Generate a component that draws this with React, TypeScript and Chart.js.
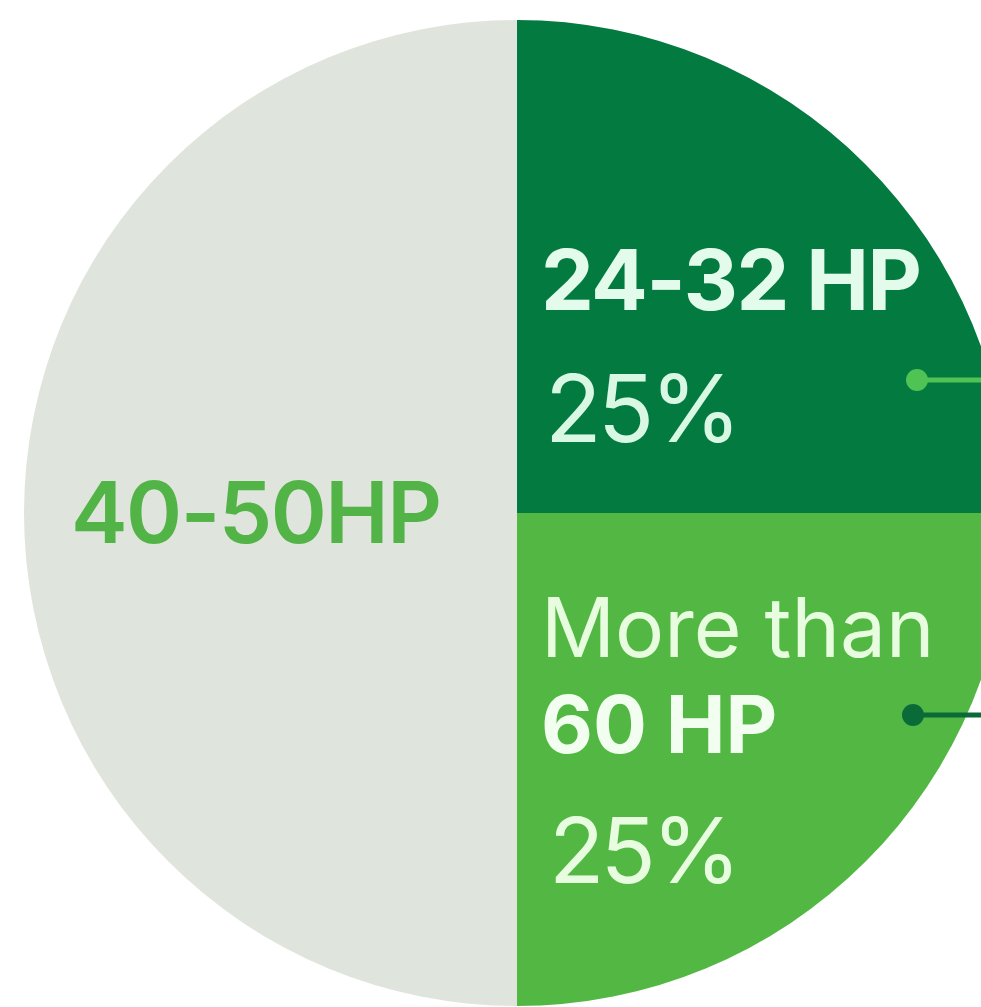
import React, { useEffect, useRef } from "react";
import { Chart, registerables } from "chart.js";

Chart.register(...registerables);

const categories = ["24-32 HP", "More than 60 HP", "40-50HP"];
const shares = [25, 25, 50];
const sliceColors = ["#037a3f", "#53b843", "#dfe5dc"];

const labelPlugin = {
  id: "sliceLabels",
  afterDatasetsDraw(chart: any) {
    const meta = chart.getDatasetMeta(0);
    const arc = meta.data[0];
    if (!arc) return;
    const cx = arc.x;
    const cy = arc.y;
    const R = arc.outerRadius;
    const ctx = chart.ctx;
    ctx.save();
    ctx.textBaseline = "alphabetic";
    ctx.textAlign = "left";
    const put = (t: string, fx: number, fy: number, font: string, color: string, ls = "0px") => {
      ctx.font = font;
      ctx.fillStyle = color;
      (ctx as any).letterSpacing = ls;
      ctx.fillText(t, cx + fx * R, cy + fy * R);
    };
    const fam = "Inter, 'Noto Sans', sans-serif";
    // dark green slice
    put(categories[0], 24 / 493, -203 / 493, `700 84px ${fam}`, "#e2fbea", "-1.5px");
    put(shares[0] + "%", 28 / 493, -71 / 493, `400 93px ${fam}`, "#d8f8e4", "-4px");
    // medium green slice
    put("More than", 24 / 493, 144 / 493, `400 82px ${fam}`, "#e8fde0", "0px");
    put("60 HP", 24 / 493, 240 / 493, `700 80px ${fam}`, "#f2fff0", "0px");
    put(shares[1] + "%", 32 / 493, 370 / 493, `400 91px ${fam}`, "#e8fde0", "-4px");
    // gray slice
    put(categories[2], -446 / 493, 30 / 493, `600 85px ${fam}`, "#52b447", "-1.5px");

    // leader dots and lines
    const dot = (fx: number, fy: number, color: string) => {
      const x = cx + fx * R;
      const y = cy + fy * R;
      ctx.strokeStyle = color;
      ctx.lineWidth = 5;
      ctx.beginPath();
      ctx.moveTo(x, y);
      ctx.lineTo(x + 200, y);
      ctx.stroke();
      ctx.fillStyle = color;
      ctx.beginPath();
      ctx.arc(x, y, 11, 0, Math.PI * 2);
      ctx.fill();
    };
    dot(400 / 493, -133 / 493, "#4fc455");
    dot(396 / 493, 202 / 493, "#0a6b38");
    ctx.restore();
  },
};

export default function App() {
  const ref = useRef<HTMLCanvasElement>(null);
  useEffect(() => {
    if (!ref.current) return;
    const chart = new Chart(ref.current, {
      type: "pie",
      data: {
        labels: categories,
        datasets: [
          {
            data: shares,
            backgroundColor: sliceColors,
            borderWidth: 0,
          },
        ],
      },
      options: {
        animation: false,
        responsive: true,
        maintainAspectRatio: false,
        layout: { padding: 7 },
        plugins: {
          legend: { display: false },
          tooltip: { enabled: false },
        },
      },
      plugins: [labelPlugin],
    });
    return () => chart.destroy();
  }, []);
  return (
    <div
      style={{
        position: "fixed",
        left: 0,
        top: 0,
        width: "100vw",
        height: "100vh",
        overflow: "hidden",
        background: "#ffffff",
      }}
    >
      <div
        style={{
          position: "absolute",
          left: 17,
          top: 13,
          width: 1000,
          height: 1000,
        }}
      >
        <canvas ref={ref} />
      </div>
    </div>
  );
}
